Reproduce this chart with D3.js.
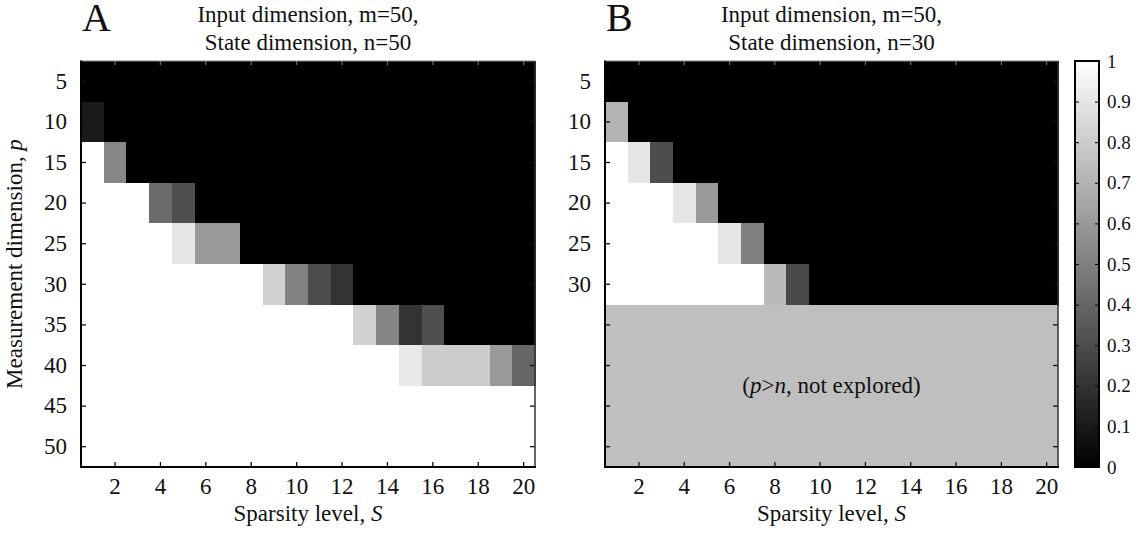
<!DOCTYPE html>
<html>
<head>
<meta charset="utf-8">
<script src="https://cdn.jsdelivr.net/npm/d3@7"></script>
<style>
  body { margin: 0; background: #fff; }
  svg { display: block; }
  text { font-family: "Liberation Serif", "Times New Roman", serif; fill: #111; }
</style>
</head>
<body>
<svg id="chart" width="1145" height="533"></svg>
<script>
// sparsity level S (columns) and measurement dimension p (rows)
const sparsity = [1, 2, 3, 4, 5, 6, 7, 8, 9, 10, 11, 12, 13, 14, 15, 16, 17, 18, 19, 20]
const sparsityTicks = [2, 4, 6, 8, 10, 12, 14, 16, 18, 20]
const measurement = [5, 10, 15, 20, 25, 30, 35, 40, 45, 50]
const measurementLabelsB = [5, 10, 15, 20, 25, 30]
const colorbarTicks = [0, 0.1, 0.2, 0.3, 0.4, 0.5, 0.6, 0.7, 0.8, 0.9, 1]

// panel A: m=50, n=50 -- fraction recovered, one row per p
const recoveryA = [
  [0, 0, 0, 0, 0, 0, 0, 0, 0, 0, 0, 0, 0, 0, 0, 0, 0, 0, 0, 0],
  [0.1, 0, 0, 0, 0, 0, 0, 0, 0, 0, 0, 0, 0, 0, 0, 0, 0, 0, 0, 0],
  [1, 0.53, 0, 0, 0, 0, 0, 0, 0, 0, 0, 0, 0, 0, 0, 0, 0, 0, 0, 0],
  [1, 1, 1, 0.42, 0.31, 0, 0, 0, 0, 0, 0, 0, 0, 0, 0, 0, 0, 0, 0, 0],
  [1, 1, 1, 1, 0.9, 0.6, 0.6, 0, 0, 0, 0, 0, 0, 0, 0, 0, 0, 0, 0, 0],
  [1, 1, 1, 1, 1, 1, 1, 1, 0.82, 0.51, 0.3, 0.2, 0, 0, 0, 0, 0, 0, 0, 0],
  [1, 1, 1, 1, 1, 1, 1, 1, 1, 1, 1, 1, 0.82, 0.52, 0.2, 0.31, 0, 0, 0, 0],
  [1, 1, 1, 1, 1, 1, 1, 1, 1, 1, 1, 1, 1, 1, 0.91, 0.8, 0.8, 0.8, 0.6, 0.4],
  [1, 1, 1, 1, 1, 1, 1, 1, 1, 1, 1, 1, 1, 1, 1, 1, 1, 1, 1, 1],
  [1, 1, 1, 1, 1, 1, 1, 1, 1, 1, 1, 1, 1, 1, 1, 1, 1, 1, 1, 1]
]

// panel B: m=50, n=30 -- rows with p>n were not explored (null)
const recoveryB = [
  [0, 0, 0, 0, 0, 0, 0, 0, 0, 0, 0, 0, 0, 0, 0, 0, 0, 0, 0, 0],
  [0.7, 0, 0, 0, 0, 0, 0, 0, 0, 0, 0, 0, 0, 0, 0, 0, 0, 0, 0, 0],
  [1, 0.9, 0.3, 0, 0, 0, 0, 0, 0, 0, 0, 0, 0, 0, 0, 0, 0, 0, 0, 0],
  [1, 1, 1, 0.9, 0.6, 0, 0, 0, 0, 0, 0, 0, 0, 0, 0, 0, 0, 0, 0, 0],
  [1, 1, 1, 1, 1, 0.9, 0.5, 0, 0, 0, 0, 0, 0, 0, 0, 0, 0, 0, 0, 0],
  [1, 1, 1, 1, 1, 1, 1, 0.73, 0.29, 0, 0, 0, 0, 0, 0, 0, 0, 0, 0, 0],
  null, null, null, null
]

const svg = d3.select('#chart')
const plotTop = 61, plotBottom = 467
const gray = d3.scaleLinear().domain([0, 1]).range(['#000', '#fff'])
const unexplored = '#bfbfbf'
const fontSize = '23px'

function heatmap (left, right, matrix, letter, title, yLabels) {
  const g = svg.append('g')
  const x = d3.scaleBand().domain(sparsity).range([left, right])
  const y = d3.scaleBand().domain(measurement).range([plotTop, plotBottom])

  // cells
  matrix.forEach(function (row, i) {
    if (row === null) return
    g.selectAll(null)
      .data(row)
      .enter()
      .append('rect')
      .attr('x', (d, j) => x(sparsity[j]))
      .attr('y', y(measurement[i]))
      .attr('width', x.bandwidth() + 1)
      .attr('height', y.bandwidth() + 1)
      .attr('fill', d => gray(d))
      .attr('shape-rendering', 'crispEdges')
  })

  // unexplored block (p > n)
  const missing = measurement.filter((p, i) => matrix[i] === null)
  if (missing.length) {
    const y0 = y(missing[0])
    g.append('rect')
      .attr('x', left).attr('y', y0)
      .attr('width', right - left).attr('height', plotBottom - y0)
      .attr('fill', unexplored)
      .attr('shape-rendering', 'crispEdges')
    const t = g.append('text')
      .attr('x', (left + right) / 2).attr('y', (y0 + plotBottom) / 2 + 7)
      .attr('text-anchor', 'middle')
      .style('font-size', fontSize)
    t.append('tspan').text('(')
    t.append('tspan').style('font-style', 'italic').text('p')
    t.append('tspan').text('>')
    t.append('tspan').style('font-style', 'italic').text('n')
    t.append('tspan').text(', not explored)')
  }

  // axes, matlab style: ticks inward, on all four sides
  const xAxis = g.append('g')
    .attr('transform', 'translate(0,' + plotBottom + ')')
    .call(d3.axisBottom(x).tickValues(sparsityTicks).tickSizeInner(-5).tickSizeOuter(0).tickPadding(11))
  const xTop = g.append('g')
    .attr('transform', 'translate(0,' + plotTop + ')')
    .call(d3.axisTop(x).tickValues(sparsityTicks).tickSizeInner(-4).tickSizeOuter(0).tickFormat(''))
  const yAxis = g.append('g')
    .attr('transform', 'translate(' + left + ',0)')
    .call(d3.axisLeft(y).tickSizeInner(-5).tickSizeOuter(0).tickPadding(14)
      .tickFormat(d => yLabels.indexOf(d) >= 0 ? d : ''))
  const yRight = g.append('g')
    .attr('transform', 'translate(' + right + ',0)')
    .call(d3.axisRight(y).tickSizeInner(-5).tickSizeOuter(0).tickFormat(''))

  ;[xAxis, xTop, yAxis, yRight].forEach(function (a) {
    a.select('.domain').remove()
    a.selectAll('line').attr('stroke', '#111').attr('stroke-width', 1.3)
    a.selectAll('text').style('font-size', fontSize).attr('fill', '#111')
      .style('font-family', '"Liberation Serif", "Times New Roman", serif')
  })
  xTop.selectAll('line').attr('stroke', '#666')

  // frame
  g.append('line').attr('x1', left).attr('x2', right).attr('y1', plotTop).attr('y2', plotTop)
    .attr('stroke', '#888').attr('stroke-width', 1)
  g.append('line').attr('x1', right).attr('x2', right).attr('y1', plotTop).attr('y2', plotBottom)
    .attr('stroke', '#333').attr('stroke-width', 1.5)
  g.append('line').attr('x1', left).attr('x2', left).attr('y1', plotTop - 0.5).attr('y2', plotBottom + 1)
    .attr('stroke', '#000').attr('stroke-width', 2)
  g.append('line').attr('x1', left - 1).attr('x2', right + 1).attr('y1', plotBottom).attr('y2', plotBottom)
    .attr('stroke', '#000').attr('stroke-width', 2)

  // labels
  const cx = (left + right) / 2
  g.append('text').attr('x', cx).attr('y', 22).attr('text-anchor', 'middle')
    .style('font-size', fontSize).text(title[0])
  g.append('text').attr('x', cx).attr('y', 50).attr('text-anchor', 'middle')
    .style('font-size', fontSize).text(title[1])
  g.append('text').attr('x', left + 1).attr('y', 31)
    .style('font-size', '40px').text(letter)

  const xl = g.append('text').attr('x', cx).attr('y', 521).attr('text-anchor', 'middle')
    .style('font-size', fontSize)
  xl.append('tspan').text('Sparsity level, ')
  xl.append('tspan').style('font-style', 'italic').text('S')
}

heatmap(81, 535, recoveryA, 'A', ['Input dimension, m=50,', 'State dimension, n=50'], measurement)
heatmap(605, 1058, recoveryB, 'B', ['Input dimension, m=50,', 'State dimension, n=30'], measurementLabelsB)

// y label for panel A
const yl = svg.append('text')
  .attr('transform', 'translate(22,' + ((plotTop + plotBottom) / 2) + ') rotate(-90)')
  .attr('text-anchor', 'middle')
  .style('font-size', fontSize)
yl.append('tspan').text('Measurement dimension, ')
yl.append('tspan').style('font-style', 'italic').text('p')

// colorbar
const cbLeft = 1075, cbRight = 1099
const defs = svg.append('defs')
const grad = defs.append('linearGradient').attr('id', 'cb')
  .attr('x1', 0).attr('x2', 0).attr('y1', 1).attr('y2', 0)
grad.append('stop').attr('offset', '0%').attr('stop-color', gray(0))
grad.append('stop').attr('offset', '100%').attr('stop-color', gray(1))

const cy = d3.scaleLinear().domain([0, 1]).range([plotBottom, plotTop])
svg.append('rect')
  .attr('x', cbLeft).attr('y', plotTop)
  .attr('width', cbRight - cbLeft).attr('height', plotBottom - plotTop)
  .attr('fill', 'url(#cb)')
  .attr('stroke', '#000').attr('stroke-width', 2)

const cbAxis = svg.append('g')
  .attr('transform', 'translate(' + cbRight + ',0)')
  .call(d3.axisRight(cy).tickValues(colorbarTicks).tickSizeInner(-4).tickSizeOuter(0).tickPadding(8)
    .tickFormat(d => d === 0 || d === 1 ? d3.format('d')(d) : d3.format('.1f')(d)))
const cbAxisL = svg.append('g')
  .attr('transform', 'translate(' + cbLeft + ',0)')
  .call(d3.axisLeft(cy).tickValues(colorbarTicks).tickSizeInner(-4).tickSizeOuter(0).tickFormat(''))
;[cbAxis, cbAxisL].forEach(function (a) {
  a.select('.domain').remove()
  a.selectAll('line').attr('stroke', '#000')
  a.selectAll('text').style('font-size', '19px').attr('fill', '#111')
    .style('font-family', '"Liberation Serif", "Times New Roman", serif')
})
</script>
</body>
</html>
